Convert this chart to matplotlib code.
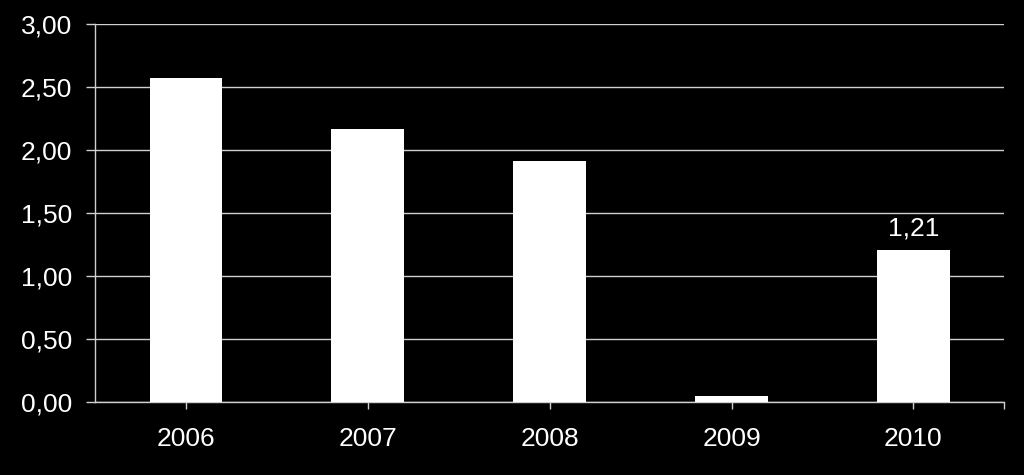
import numpy as np
import matplotlib.pyplot as plt
from matplotlib.ticker import FuncFormatter

# data
years = ["2006", "2007", "2008", "2009", "2010"]
values = [2.57, 2.17, 1.91, 0.05, 1.21]
label_value = 1.21  # only the last bar carries a label

plt.rcParams["font.family"] = ["Liberation Sans", "DejaVu Sans"]

fig = plt.figure(figsize=(10.24, 4.75), dpi=100, facecolor="black")
ax = fig.add_axes([0.0928, 0.154, 0.888, 0.795], facecolor="black")

x = np.arange(len(years))
bars = ax.bar(x, values, width=0.4, color="white", zorder=3)

ax.set_xlim(-0.5, len(years) - 0.5)
ax.set_ylim(0, 3)
ax.set_yticks(np.arange(0, 3.01, 0.5))
ax.yaxis.set_major_formatter(FuncFormatter(lambda v, p: f"{v:.2f}".replace(".", ",")))
ax.set_xticks(x)
ax.set_xticklabels(years)
ax.set_xticks([len(years) - 0.5], minor=True)

ax.grid(axis="y", color="#d0d0d0", linewidth=1.0, zorder=1)
for s in ["top", "right"]:
    ax.spines[s].set_visible(False)
for s in ["left", "bottom"]:
    ax.spines[s].set_color("#d0d0d0")
    ax.spines[s].set_linewidth(1.0)

ax.tick_params(axis="y", colors="white", labelsize=19, length=6.5, width=1.0,
               pad=10, color="#d0d0d0")
ax.tick_params(axis="x", which="both", colors="white", labelsize=19, length=5,
               width=1.0, pad=13, color="#d0d0d0")

ax.text(x[-1], label_value + 0.07, f"{label_value:.2f}".replace(".", ","),
        ha="center", va="bottom", color="white", fontsize=19)

fig.savefig("out.png", dpi=100, facecolor="black")
